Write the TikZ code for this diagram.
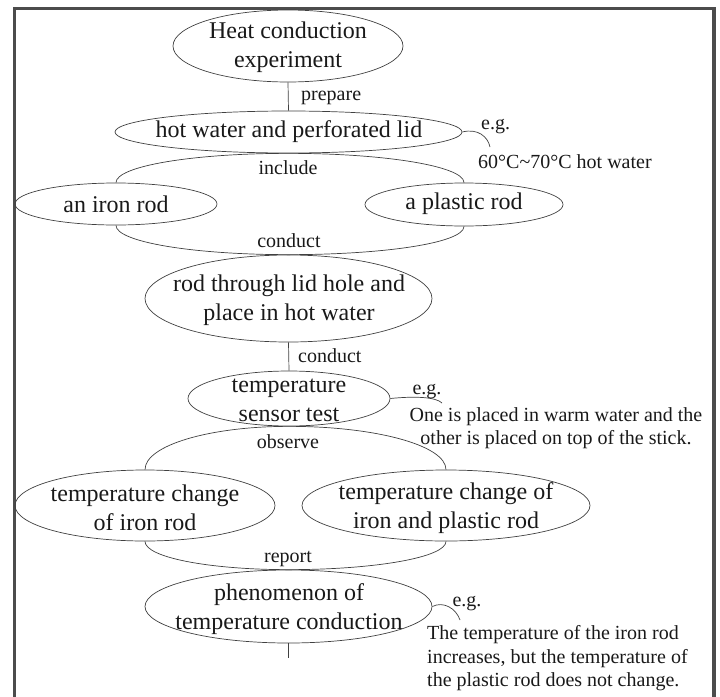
\documentclass[tikz,border=0pt]{standalone}
\usepackage{fontspec}
\setmainfont{Liberation Serif}
\usetikzlibrary{shapes.geometric}
\begin{document}
\begin{tikzpicture}[x=1pt,y=-1pt,
  ell/.style={ellipse, draw=black!75, line width=0.7pt, inner sep=0pt},
  big/.style={font=\fontsize{24}{29}\selectfont, align=center, inner sep=0pt, text=black!90},
  lab/.style={font=\fontsize{20}{23.5}\selectfont, inner sep=0pt, text=black!90},
  con/.style={draw=black!75, line width=0.7pt}]
\useasboundingbox (0,0) rectangle (720,696);
\draw[line width=3.5pt, draw=black!70] (14.5,720) -- (14.5,8.5) -- (714,8.5) -- (714,720);

% ellipses
\node[ell, minimum width=230, minimum height=72] (n1) at (288,46) {};
\node[ell, minimum width=347, minimum height=42] (n2) at (288.5,132) {};
\node[ell, minimum width=202, minimum height=42] (iron) at (116,204) {};
\node[ell, minimum width=198, minimum height=43] (plastic) at (464,204.5) {};
\node[ell, minimum width=287, minimum height=87] (n3) at (288.5,298.5) {};
\node[ell, minimum width=202, minimum height=55] (n4) at (289,398.5) {};
\node[ell, minimum width=260, minimum height=71] (n5) at (145,505.5) {};
\node[ell, minimum width=288, minimum height=71] (n6) at (446,505.5) {};
\node[ell, minimum width=287, minimum height=73] (n7) at (288.5,606.5) {};

% texts in ellipses
\node[big] (t1) at (288,47) {Heat conduction\\experiment};
\node[big] (t2) at (289,132) {hot water and perforated lid};
\node[big] (t3) at (116,204) {an iron rod};
\node[big] (t4) at (464,204) {a plastic rod};
\node[big] (t5) at (289,300) {rod through lid hole and\\place in hot water};
\node[big] (t6) at (289,400.5) {temperature\\sensor test};
\node[big] (t7) at (145,508) {temperature change\\of iron rod};
\node[big] (t8) at (446,508) {temperature change of\\iron and plastic rod};
\node[big] (t9) at (289,609) {phenomenon of\\temperature conduction};

% connectors
\draw[con] (n1.south) -- (n2.north);
\draw[con] (iron.north) .. controls +(0,-16.6) and +(-95.5,0) .. (n2.south)
           .. controls +(95.5,0) and +(0,-16.6) .. (plastic.north);
\draw[con] (iron.south) .. controls +(0,16.6) and +(-95.5,0) .. (n3.north)
           .. controls +(95.5,0) and +(0,16.6) .. (plastic.south);
\draw[con] (n3.south) -- (n4.north);
\draw[con] (n5.north) .. controls +(0,-24.3) and +(-79.5,0) .. (n4.south)
           .. controls +(86.7,0) and +(0,-24.3) .. (n6.north);
\draw[con] (n5.south) .. controls +(0,16) and +(-79.5,0) .. (n7.north)
           .. controls +(86.7,0) and +(0,16) .. (n6.south);
\coordinate (end7) at (288.5,658);
\draw[con] (n7.south) -- (end7);

% e.g. connectors
\coordinate (eg1end) at (490,147);
\draw[con] (n2.east) .. controls (478,128) and (488,137) .. (eg1end);
\coordinate (eg2end) at (442,403);
\draw[con] (n4.east) .. controls (415,396) and (436,397) .. (eg2end);
\coordinate (eg3end) at (460,620);
\draw[con] (n7.east) .. controls (443,601) and (456,608) .. (eg3end);

% labels
\node[lab, anchor=west] (l1) at (301,98) {prepare};
\node[lab] (l2) at (288,168) {include};
\node[lab] (l3) at (289,241) {conduct};
\node[lab, anchor=west] (l4) at (298,356) {conduct};
\node[lab] (l5) at (288,442) {observe};
\node[lab] (l6) at (288,559) {report};

% annotations
\node[lab, anchor=west] (e1) at (481,127) {e.g.};
\node[lab, anchor=west] (a1) at (478,162) {60°C\textasciitilde70°C hot water};
\node[lab] (e2) at (427,392) {e.g.};
\node[lab, align=center] (a2) at (556,428) {One is placed in warm water and the\\other is placed on top of the stick.};
\node[lab] (e3) at (467,604) {e.g.};
\node[lab, align=left, anchor=west] (a3) at (427,658.5) {The temperature of the iron rod\\increases, but the temperature of\\the plastic rod does not change.};
\end{tikzpicture}
\end{document}
